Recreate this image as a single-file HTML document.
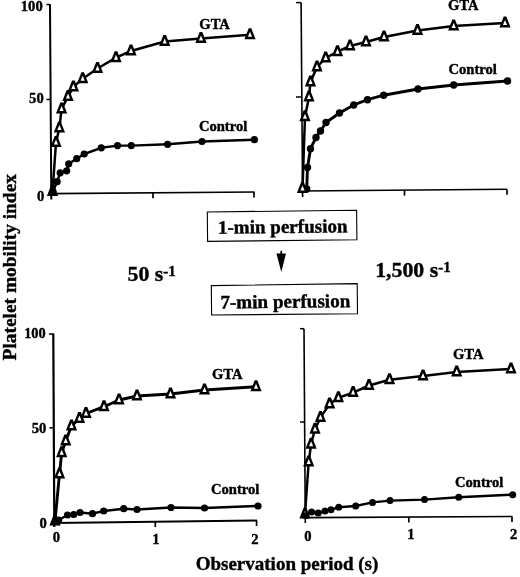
<!DOCTYPE html>
<html><head><meta charset="utf-8"><title>Platelet mobility index</title>
<style>html,body{margin:0;padding:0;background:#fff;}body{width:520px;height:577px;overflow:hidden;font-family:"Liberation Serif",serif;}</style>
</head><body>
<svg width="520" height="577" viewBox="0 0 520 577" style="display:block;will-change:transform;filter:blur(0.3px);font-family:'Liberation Serif', serif;font-weight:bold" fill="#000" >
<line x1="50.0" y1="4.3" x2="51.3" y2="199.5" stroke="#000" stroke-width="2.0"/>
<line x1="46.5" y1="4.5" x2="50.0" y2="4.5" stroke="#000" stroke-width="1.5"/>
<line x1="46.5" y1="99.5" x2="50.0" y2="99.5" stroke="#000" stroke-width="1.5"/>
<line x1="51" y1="193.7" x2="254.5" y2="192.0" stroke="#000" stroke-width="1.7"/>
<line x1="153" y1="192.9" x2="153" y2="198.3" stroke="#000" stroke-width="1.7"/>
<line x1="254.0" y1="192.0" x2="254.0" y2="197.4" stroke="#000" stroke-width="1.7"/>
<polyline points="52.5,191.5 56.0,142.6 59.4,127.9 61.6,108.9 68.0,96.6 73.4,86.9 82.7,78.7 97.5,68.5 116.0,57.7 131.0,51.0 164.7,41.5 201.0,38.5 250.0,34.7" fill="none" stroke="#000" stroke-width="2.5" stroke-linejoin="round" stroke-linecap="round"/>
<polyline points="53.0,191.5 57.1,181.7 60.2,172.8 66.7,170.8 68.7,163.8 76.7,158.7 84.2,154.0 101.3,147.8 117.5,145.6 131.3,145.6 167.6,144.3 202.0,141.5 254.4,139.7" fill="none" stroke="#000" stroke-width="2.4" stroke-linejoin="round" stroke-linecap="round"/>
<circle cx="53.0" cy="191.5" r="3.6" fill="#000"/>
<circle cx="57.1" cy="181.7" r="3.6" fill="#000"/>
<circle cx="60.2" cy="172.8" r="3.6" fill="#000"/>
<circle cx="66.7" cy="170.8" r="3.6" fill="#000"/>
<circle cx="68.7" cy="163.8" r="3.6" fill="#000"/>
<circle cx="76.7" cy="158.7" r="3.6" fill="#000"/>
<circle cx="84.2" cy="154.0" r="3.6" fill="#000"/>
<circle cx="101.3" cy="147.8" r="3.6" fill="#000"/>
<circle cx="117.5" cy="145.6" r="3.6" fill="#000"/>
<circle cx="131.3" cy="145.6" r="3.6" fill="#000"/>
<circle cx="167.6" cy="144.3" r="3.6" fill="#000"/>
<circle cx="202.0" cy="141.5" r="3.6" fill="#000"/>
<circle cx="254.4" cy="139.7" r="3.6" fill="#000"/>
<path d="M46.9,196.0 L58.1,196.0 L53.8,185.0 L51.2,185.0 Z" fill="#000"/><path d="M50.4,193.5 L54.6,193.5 L52.5,188.5 Z" fill="#fff"/>
<path d="M50.4,147.1 L61.6,147.1 L57.3,136.1 L54.7,136.1 Z" fill="#000"/><path d="M53.9,144.6 L58.1,144.6 L56.0,139.6 Z" fill="#fff"/>
<path d="M53.8,132.4 L65.0,132.4 L60.7,121.4 L58.1,121.4 Z" fill="#000"/><path d="M57.3,129.9 L61.5,129.9 L59.4,124.9 Z" fill="#fff"/>
<path d="M56.0,113.4 L67.2,113.4 L62.9,102.4 L60.3,102.4 Z" fill="#000"/><path d="M59.5,110.9 L63.7,110.9 L61.6,105.9 Z" fill="#fff"/>
<path d="M62.4,101.1 L73.6,101.1 L69.3,90.1 L66.7,90.1 Z" fill="#000"/><path d="M65.9,98.6 L70.1,98.6 L68.0,93.6 Z" fill="#fff"/>
<path d="M67.8,91.4 L79.0,91.4 L74.7,80.4 L72.1,80.4 Z" fill="#000"/><path d="M71.3,88.9 L75.5,88.9 L73.4,83.9 Z" fill="#fff"/>
<path d="M77.1,83.2 L88.3,83.2 L84.0,72.2 L81.4,72.2 Z" fill="#000"/><path d="M80.6,80.7 L84.8,80.7 L82.7,75.7 Z" fill="#fff"/>
<path d="M91.9,73.0 L103.1,73.0 L98.8,62.0 L96.2,62.0 Z" fill="#000"/><path d="M95.4,70.5 L99.6,70.5 L97.5,65.5 Z" fill="#fff"/>
<path d="M110.4,62.2 L121.6,62.2 L117.3,51.2 L114.7,51.2 Z" fill="#000"/><path d="M113.9,59.7 L118.1,59.7 L116.0,54.7 Z" fill="#fff"/>
<path d="M125.4,55.5 L136.6,55.5 L132.3,44.5 L129.7,44.5 Z" fill="#000"/><path d="M128.9,53.0 L133.1,53.0 L131.0,48.0 Z" fill="#fff"/>
<path d="M159.1,46.0 L170.3,46.0 L166.0,35.0 L163.4,35.0 Z" fill="#000"/><path d="M162.6,43.5 L166.8,43.5 L164.7,38.5 Z" fill="#fff"/>
<path d="M195.4,43.0 L206.6,43.0 L202.3,32.0 L199.7,32.0 Z" fill="#000"/><path d="M198.9,40.5 L203.1,40.5 L201.0,35.5 Z" fill="#fff"/>
<path d="M244.4,39.2 L255.6,39.2 L251.3,28.2 L248.7,28.2 Z" fill="#000"/><path d="M247.9,36.7 L252.1,36.7 L250.0,31.7 Z" fill="#fff"/>
<circle cx="53.0" cy="191.5" r="3.2" fill="#000"/>
<line x1="301.1" y1="2.6" x2="302.6" y2="197" stroke="#000" stroke-width="1.6"/>
<line x1="296" y1="2.6" x2="301.1" y2="2.6" stroke="#000" stroke-width="1.5"/>
<line x1="296" y1="97" x2="301.1" y2="97" stroke="#000" stroke-width="1.5"/>
<line x1="301.5" y1="191" x2="507" y2="189.3" stroke="#000" stroke-width="1.6"/>
<line x1="404.5" y1="190.2" x2="404.5" y2="195.6" stroke="#000" stroke-width="1.7"/>
<line x1="507" y1="189.3" x2="507" y2="194.70000000000002" stroke="#000" stroke-width="1.7"/>
<polyline points="302.5,188.5 305.0,116.7 309.0,97.0 310.5,82.0 317.0,67.0 325.7,58.0 337.5,51.7 350.0,46.0 366.0,42.0 384.0,37.0 417.5,30.5 453.7,26.0 505.0,23.0" fill="none" stroke="#000" stroke-width="2.5" stroke-linejoin="round" stroke-linecap="round"/>
<polyline points="306.7,189.0 307.5,167.5 310.5,148.7 316.0,137.5 320.5,131.0 326.0,122.5 339.5,113.0 353.7,105.0 367.5,99.7 383.7,95.2 418.0,89.0 453.7,85.0 507.5,81.0" fill="none" stroke="#000" stroke-width="2.9" stroke-linejoin="round" stroke-linecap="round"/>
<circle cx="306.7" cy="189.0" r="3.7" fill="#000"/>
<circle cx="307.5" cy="167.5" r="3.7" fill="#000"/>
<circle cx="310.5" cy="148.7" r="3.7" fill="#000"/>
<circle cx="316.0" cy="137.5" r="3.7" fill="#000"/>
<circle cx="320.5" cy="131.0" r="3.7" fill="#000"/>
<circle cx="326.0" cy="122.5" r="3.7" fill="#000"/>
<circle cx="339.5" cy="113.0" r="3.7" fill="#000"/>
<circle cx="353.7" cy="105.0" r="3.7" fill="#000"/>
<circle cx="367.5" cy="99.7" r="3.7" fill="#000"/>
<circle cx="383.7" cy="95.2" r="3.7" fill="#000"/>
<circle cx="418.0" cy="89.0" r="3.7" fill="#000"/>
<circle cx="453.7" cy="85.0" r="3.7" fill="#000"/>
<circle cx="507.5" cy="81.0" r="3.7" fill="#000"/>
<path d="M296.9,193.0 L308.1,193.0 L303.8,182.0 L301.2,182.0 Z" fill="#000"/><path d="M300.4,190.5 L304.6,190.5 L302.5,185.5 Z" fill="#fff"/>
<path d="M299.4,121.2 L310.6,121.2 L306.3,110.2 L303.7,110.2 Z" fill="#000"/><path d="M302.9,118.7 L307.1,118.7 L305.0,113.7 Z" fill="#fff"/>
<path d="M303.4,101.5 L314.6,101.5 L310.3,90.5 L307.7,90.5 Z" fill="#000"/><path d="M306.9,99.0 L311.1,99.0 L309.0,94.0 Z" fill="#fff"/>
<path d="M304.9,86.5 L316.1,86.5 L311.8,75.5 L309.2,75.5 Z" fill="#000"/><path d="M308.4,84.0 L312.6,84.0 L310.5,79.0 Z" fill="#fff"/>
<path d="M311.4,71.5 L322.6,71.5 L318.3,60.5 L315.7,60.5 Z" fill="#000"/><path d="M314.9,69.0 L319.1,69.0 L317.0,64.0 Z" fill="#fff"/>
<path d="M320.1,62.5 L331.3,62.5 L327.0,51.5 L324.4,51.5 Z" fill="#000"/><path d="M323.6,60.0 L327.8,60.0 L325.7,55.0 Z" fill="#fff"/>
<path d="M331.9,56.2 L343.1,56.2 L338.8,45.2 L336.2,45.2 Z" fill="#000"/><path d="M335.4,53.7 L339.6,53.7 L337.5,48.7 Z" fill="#fff"/>
<path d="M344.4,50.5 L355.6,50.5 L351.3,39.5 L348.7,39.5 Z" fill="#000"/><path d="M347.9,48.0 L352.1,48.0 L350.0,43.0 Z" fill="#fff"/>
<path d="M360.4,46.5 L371.6,46.5 L367.3,35.5 L364.7,35.5 Z" fill="#000"/><path d="M363.9,44.0 L368.1,44.0 L366.0,39.0 Z" fill="#fff"/>
<path d="M378.4,41.5 L389.6,41.5 L385.3,30.5 L382.7,30.5 Z" fill="#000"/><path d="M381.9,39.0 L386.1,39.0 L384.0,34.0 Z" fill="#fff"/>
<path d="M411.9,35.0 L423.1,35.0 L418.8,24.0 L416.2,24.0 Z" fill="#000"/><path d="M415.4,32.5 L419.6,32.5 L417.5,27.5 Z" fill="#fff"/>
<path d="M448.1,30.5 L459.3,30.5 L455.0,19.5 L452.4,19.5 Z" fill="#000"/><path d="M451.6,28.0 L455.8,28.0 L453.7,23.0 Z" fill="#fff"/>
<path d="M499.4,27.5 L510.6,27.5 L506.3,16.5 L503.7,16.5 Z" fill="#000"/><path d="M502.9,25.0 L507.1,25.0 L505.0,20.0 Z" fill="#fff"/>
<line x1="53.3" y1="333.4" x2="54.3" y2="527" stroke="#000" stroke-width="2.2"/>
<line x1="49.0" y1="334.0" x2="53.3" y2="334.0" stroke="#000" stroke-width="1.5"/>
<line x1="49.5" y1="427.8" x2="53.3" y2="427.8" stroke="#000" stroke-width="1.5"/>
<line x1="53.5" y1="522.9" x2="257" y2="520.6" stroke="#000" stroke-width="2.0"/>
<line x1="155.3" y1="521.7" x2="155.3" y2="527.1" stroke="#000" stroke-width="1.7"/>
<line x1="256.6" y1="520.6" x2="256.6" y2="526.0" stroke="#000" stroke-width="1.7"/>
<polyline points="55.0,521.0 59.5,474.0 61.7,452.7 65.7,441.0 71.5,426.0 79.5,418.5 86.0,413.5 104.0,406.7 119.0,400.0 137.0,396.0 170.5,394.0 204.5,390.0 256.0,386.7" fill="none" stroke="#000" stroke-width="2.9" stroke-linejoin="round" stroke-linecap="round"/>
<polyline points="56.0,521.0 58.7,520.0 67.5,515.0 73.7,514.5 80.0,512.5 92.5,513.7 103.7,511.0 123.7,508.7 137.0,509.5 171.0,507.5 204.5,508.0 258.0,506.0" fill="none" stroke="#000" stroke-width="2.4" stroke-linejoin="round" stroke-linecap="round"/>
<circle cx="56.0" cy="521.0" r="3.6" fill="#000"/>
<circle cx="58.7" cy="520.0" r="3.6" fill="#000"/>
<circle cx="67.5" cy="515.0" r="3.6" fill="#000"/>
<circle cx="73.7" cy="514.5" r="3.6" fill="#000"/>
<circle cx="80.0" cy="512.5" r="3.6" fill="#000"/>
<circle cx="92.5" cy="513.7" r="3.6" fill="#000"/>
<circle cx="103.7" cy="511.0" r="3.6" fill="#000"/>
<circle cx="123.7" cy="508.7" r="3.6" fill="#000"/>
<circle cx="137.0" cy="509.5" r="3.6" fill="#000"/>
<circle cx="171.0" cy="507.5" r="3.6" fill="#000"/>
<circle cx="204.5" cy="508.0" r="3.6" fill="#000"/>
<circle cx="258.0" cy="506.0" r="3.6" fill="#000"/>
<path d="M49.4,525.5 L60.6,525.5 L56.3,514.5 L53.7,514.5 Z" fill="#000"/><path d="M52.9,523.0 L57.1,523.0 L55.0,518.0 Z" fill="#fff"/>
<path d="M53.9,478.5 L65.1,478.5 L60.8,467.5 L58.2,467.5 Z" fill="#000"/><path d="M57.4,476.0 L61.6,476.0 L59.5,471.0 Z" fill="#fff"/>
<path d="M56.1,457.2 L67.3,457.2 L63.0,446.2 L60.4,446.2 Z" fill="#000"/><path d="M59.6,454.7 L63.8,454.7 L61.7,449.7 Z" fill="#fff"/>
<path d="M60.1,445.5 L71.3,445.5 L67.0,434.5 L64.4,434.5 Z" fill="#000"/><path d="M63.6,443.0 L67.8,443.0 L65.7,438.0 Z" fill="#fff"/>
<path d="M65.9,430.5 L77.1,430.5 L72.8,419.5 L70.2,419.5 Z" fill="#000"/><path d="M69.4,428.0 L73.6,428.0 L71.5,423.0 Z" fill="#fff"/>
<path d="M73.9,423.0 L85.1,423.0 L80.8,412.0 L78.2,412.0 Z" fill="#000"/><path d="M77.4,420.5 L81.6,420.5 L79.5,415.5 Z" fill="#fff"/>
<path d="M80.4,418.0 L91.6,418.0 L87.3,407.0 L84.7,407.0 Z" fill="#000"/><path d="M83.9,415.5 L88.1,415.5 L86.0,410.5 Z" fill="#fff"/>
<path d="M98.4,411.2 L109.6,411.2 L105.3,400.2 L102.7,400.2 Z" fill="#000"/><path d="M101.9,408.7 L106.1,408.7 L104.0,403.7 Z" fill="#fff"/>
<path d="M113.4,404.5 L124.6,404.5 L120.3,393.5 L117.7,393.5 Z" fill="#000"/><path d="M116.9,402.0 L121.1,402.0 L119.0,397.0 Z" fill="#fff"/>
<path d="M131.4,400.5 L142.6,400.5 L138.3,389.5 L135.7,389.5 Z" fill="#000"/><path d="M134.9,398.0 L139.1,398.0 L137.0,393.0 Z" fill="#fff"/>
<path d="M164.9,398.5 L176.1,398.5 L171.8,387.5 L169.2,387.5 Z" fill="#000"/><path d="M168.4,396.0 L172.6,396.0 L170.5,391.0 Z" fill="#fff"/>
<path d="M198.9,394.5 L210.1,394.5 L205.8,383.5 L203.2,383.5 Z" fill="#000"/><path d="M202.4,392.0 L206.6,392.0 L204.5,387.0 Z" fill="#fff"/>
<path d="M250.4,391.2 L261.6,391.2 L257.3,380.2 L254.7,380.2 Z" fill="#000"/><path d="M253.9,388.7 L258.1,388.7 L256.0,383.7 Z" fill="#fff"/>
<circle cx="56.0" cy="521.0" r="3.2" fill="#000"/>
<line x1="304.0" y1="328.7" x2="305.3" y2="523" stroke="#000" stroke-width="1.6"/>
<line x1="300" y1="328.7" x2="304.0" y2="328.7" stroke="#000" stroke-width="1.5"/>
<line x1="300" y1="422" x2="304.0" y2="422" stroke="#000" stroke-width="1.5"/>
<line x1="304.5" y1="517.7" x2="512.3" y2="516.5" stroke="#000" stroke-width="1.7"/>
<line x1="408.8" y1="517.1" x2="408.8" y2="522.5" stroke="#000" stroke-width="1.7"/>
<line x1="512.0" y1="516.5" x2="512.0" y2="521.9" stroke="#000" stroke-width="1.7"/>
<polyline points="305.0,514.0 308.7,462.0 311.1,444.2 315.0,429.2 320.5,417.4 329.6,404.1 338.4,397.8 353.1,392.6 369.0,385.5 389.5,379.7 423.0,376.0 456.7,372.0 511.0,369.0" fill="none" stroke="#000" stroke-width="2.5" stroke-linejoin="round" stroke-linecap="round"/>
<polyline points="305.4,515.4 311.6,511.9 318.2,513.0 325.0,511.0 331.0,509.7 338.7,507.3 355.7,506.0 372.5,502.4 390.0,500.6 424.5,499.6 458.7,497.2 512.7,494.7" fill="none" stroke="#000" stroke-width="2.4" stroke-linejoin="round" stroke-linecap="round"/>
<circle cx="305.4" cy="515.4" r="3.5" fill="#000"/>
<circle cx="311.6" cy="511.9" r="3.5" fill="#000"/>
<circle cx="318.2" cy="513.0" r="3.5" fill="#000"/>
<circle cx="325.0" cy="511.0" r="3.5" fill="#000"/>
<circle cx="331.0" cy="509.7" r="3.5" fill="#000"/>
<circle cx="338.7" cy="507.3" r="3.5" fill="#000"/>
<circle cx="355.7" cy="506.0" r="3.5" fill="#000"/>
<circle cx="372.5" cy="502.4" r="3.5" fill="#000"/>
<circle cx="390.0" cy="500.6" r="3.5" fill="#000"/>
<circle cx="424.5" cy="499.6" r="3.5" fill="#000"/>
<circle cx="458.7" cy="497.2" r="3.5" fill="#000"/>
<circle cx="512.7" cy="494.7" r="3.5" fill="#000"/>
<path d="M299.4,518.5 L310.6,518.5 L306.3,507.5 L303.7,507.5 Z" fill="#000"/><path d="M302.9,516.0 L307.1,516.0 L305.0,511.0 Z" fill="#fff"/>
<path d="M303.1,466.5 L314.3,466.5 L310.0,455.5 L307.4,455.5 Z" fill="#000"/><path d="M306.6,464.0 L310.8,464.0 L308.7,459.0 Z" fill="#fff"/>
<path d="M305.5,448.7 L316.7,448.7 L312.4,437.7 L309.8,437.7 Z" fill="#000"/><path d="M309.0,446.2 L313.2,446.2 L311.1,441.2 Z" fill="#fff"/>
<path d="M309.4,433.7 L320.6,433.7 L316.3,422.7 L313.7,422.7 Z" fill="#000"/><path d="M312.9,431.2 L317.1,431.2 L315.0,426.2 Z" fill="#fff"/>
<path d="M314.9,421.9 L326.1,421.9 L321.8,410.9 L319.2,410.9 Z" fill="#000"/><path d="M318.4,419.4 L322.6,419.4 L320.5,414.4 Z" fill="#fff"/>
<path d="M324.0,408.6 L335.2,408.6 L330.9,397.6 L328.3,397.6 Z" fill="#000"/><path d="M327.5,406.1 L331.7,406.1 L329.6,401.1 Z" fill="#fff"/>
<path d="M332.8,402.3 L344.0,402.3 L339.7,391.3 L337.1,391.3 Z" fill="#000"/><path d="M336.3,399.8 L340.5,399.8 L338.4,394.8 Z" fill="#fff"/>
<path d="M347.5,397.1 L358.7,397.1 L354.4,386.1 L351.8,386.1 Z" fill="#000"/><path d="M351.0,394.6 L355.2,394.6 L353.1,389.6 Z" fill="#fff"/>
<path d="M363.4,390.0 L374.6,390.0 L370.3,379.0 L367.7,379.0 Z" fill="#000"/><path d="M366.9,387.5 L371.1,387.5 L369.0,382.5 Z" fill="#fff"/>
<path d="M383.9,384.2 L395.1,384.2 L390.8,373.2 L388.2,373.2 Z" fill="#000"/><path d="M387.4,381.7 L391.6,381.7 L389.5,376.7 Z" fill="#fff"/>
<path d="M417.4,380.5 L428.6,380.5 L424.3,369.5 L421.7,369.5 Z" fill="#000"/><path d="M420.9,378.0 L425.1,378.0 L423.0,373.0 Z" fill="#fff"/>
<path d="M451.1,376.5 L462.3,376.5 L458.0,365.5 L455.4,365.5 Z" fill="#000"/><path d="M454.6,374.0 L458.8,374.0 L456.7,369.0 Z" fill="#fff"/>
<path d="M505.4,373.5 L516.6,373.5 L512.3,362.5 L509.7,362.5 Z" fill="#000"/><path d="M508.9,371.0 L513.1,371.0 L511.0,366.0 Z" fill="#fff"/>
<circle cx="305.4" cy="515.4" r="3.2" fill="#000"/>
<text x="42.7" y="10.8" font-size="14.6" text-anchor="end" stroke="#000" stroke-width="0.4" >100</text>
<text x="43.7" y="103.3" font-size="14.6" text-anchor="end" stroke="#000" stroke-width="0.4" >50</text>
<text x="44.3" y="200.7" font-size="14.6" text-anchor="end" stroke="#000" stroke-width="0.4" >0</text>
<text x="45.6" y="337.5" font-size="14.3" text-anchor="end" stroke="#000" stroke-width="0.4" >100</text>
<text x="46.4" y="433" font-size="14.6" text-anchor="end" stroke="#000" stroke-width="0.4" >50</text>
<text x="46.7" y="528.2" font-size="14.6" text-anchor="end" stroke="#000" stroke-width="0.4" >0</text>
<text x="56.4" y="541.6" font-size="14.6" text-anchor="middle" stroke="#000" stroke-width="0.4" >0</text>
<text x="156" y="543.5" font-size="14.6" text-anchor="middle" stroke="#000" stroke-width="0.4" >1</text>
<text x="255" y="543.5" font-size="14.6" text-anchor="middle" stroke="#000" stroke-width="0.4" >2</text>
<text x="308" y="541.2" font-size="14.6" text-anchor="middle" stroke="#000" stroke-width="0.4" >0</text>
<text x="411" y="539.2" font-size="14.6" text-anchor="middle" stroke="#000" stroke-width="0.4" >1</text>
<text x="513.7" y="538.6" font-size="14.6" text-anchor="middle" stroke="#000" stroke-width="0.4" >2</text>
<text x="199.3" y="28.8" font-size="14.6" text-anchor="start" stroke="#000" stroke-width="0.4" >GTA</text>
<text x="198.9" y="130.6" font-size="14.6" text-anchor="start" stroke="#000" stroke-width="0.4" >Control</text>
<text x="448" y="10" font-size="14.6" text-anchor="start" stroke="#000" stroke-width="0.4" >GTA</text>
<text x="448.5" y="73.8" font-size="14.6" text-anchor="start" stroke="#000" stroke-width="0.4" >Control</text>
<text x="212" y="379.3" font-size="14.6" text-anchor="start" stroke="#000" stroke-width="0.4" >GTA</text>
<text x="211" y="494.2" font-size="14.6" text-anchor="start" stroke="#000" stroke-width="0.4" >Control</text>
<text x="453" y="359.2" font-size="14.6" text-anchor="start" stroke="#000" stroke-width="0.4" >GTA</text>
<text x="455" y="486.8" font-size="14.6" text-anchor="start" stroke="#000" stroke-width="0.4" >Control</text>
<polygon points="207.3,212 356.6,210.2 356.9,239.8 207.6,241.4" fill="#fff" stroke="#000" stroke-width="1.1"/>
<polygon points="211.3,285.6 357.2,283.6 357.5,313.8 211.6,315" fill="#fff" stroke="#000" stroke-width="1.1"/>
<text x="218" y="233.7" font-size="19.05" text-anchor="start" stroke="#000" stroke-width="0.4" transform="rotate(-0.6 218 233.7)">1-min perfusion</text>
<text x="220.4" y="308.5" font-size="19.1" text-anchor="start" stroke="#000" stroke-width="0.4" transform="rotate(-0.6 220.4 308.5)">7-min perfusion</text>
<path d="M276.4,253.4 L280.4,253.4 L280.4,250.8 L282.1,250.8 L282.1,253.4 L286,253.4 L281.3,272 Z" fill="#000"/>
<text x="127.6" y="281.3" font-size="21.8" text-anchor="start" stroke="#000" stroke-width="0.4" >50 s<tspan font-size="15" dy="-5.2">-1</tspan></text>
<text x="375.2" y="276.9" font-size="21.8" text-anchor="start" stroke="#000" stroke-width="0.4" >1,500 s<tspan font-size="15" dy="-5.2">-1</tspan></text>
<text x="195.7" y="569.6" font-size="19" text-anchor="start" stroke="#000" stroke-width="0.4" >Observation period (s)</text>
<text x="0" y="0" font-size="19.4" stroke="#000" stroke-width="0.4" transform="translate(16.2,360.4) rotate(-90)">Platelet mobility index</text>
</svg>
</body></html>
